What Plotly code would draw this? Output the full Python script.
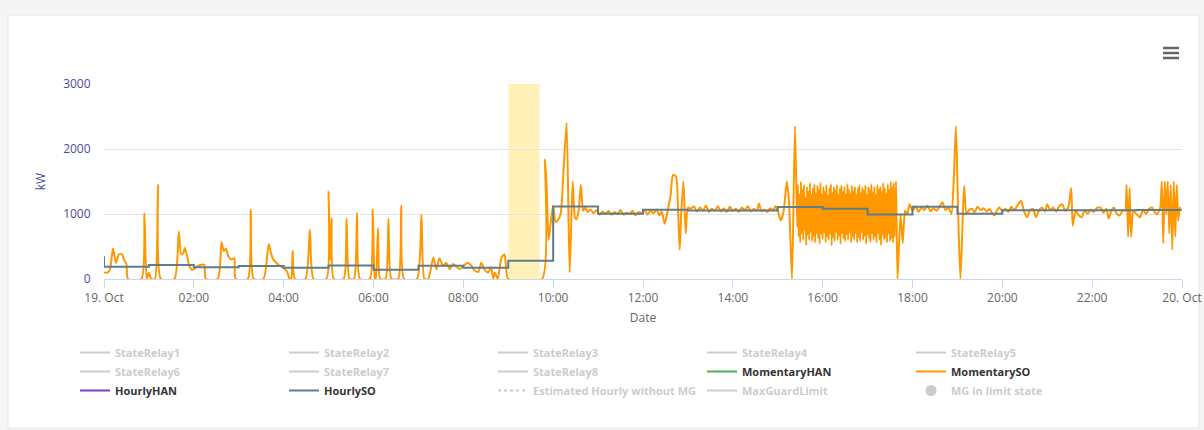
import pandas as pd
import plotly.graph_objects as go

# ---------------- data ----------------
day = "2023-10-19"

# MomentarySO (kW), (time, kW)
mom_so_night = [
    ("00:00", 100), ("00:05", 100), ("00:08", 150), ("00:12", 470), ("00:16", 250),
    ("00:20", 380), ("00:24", 380), ("00:27", 290), ("00:30", 230), ("00:32", 0),
    ("00:50", 0), ("00:54", 1010), ("00:57", 0), ("01:00", 100), ("01:03", 0),
    ("01:08", 0), ("01:12", 1450), ("01:16", 0), ("01:34", 0), ("01:40", 730),
    ("01:43", 380), ("01:46", 400), ("01:48", 480), ("01:51", 350), ("01:54", 200),
    ("01:57", 150), ("02:00", 150), ("02:05", 200), ("02:10", 220), ("02:14", 220),
    ("02:16", 0), ("02:32", 0), ("02:37", 570), ("02:40", 430), ("02:43", 470),
    ("02:46", 350), ("02:50", 300), ("02:54", 320), ("02:56", 0), ("03:12", 0),
    ("03:16", 1060), ("03:20", 0), ("03:33", 0), ("03:40", 540), ("03:43", 400),
    ("03:46", 300), ("03:50", 250), ("03:55", 200), ("03:58", 180), ("04:02", 150),
    ("04:05", 100), ("04:08", 0), ("04:10", 0), ("04:12", 430), ("04:15", 0),
    ("04:29", 0), ("04:35", 760), ("04:40", 0), ("04:57", 0), ("05:00", 1350),
    ("05:02", 300), ("05:04", 930), ("05:07", 0), ("05:20", 0), ("05:24", 930),
    ("05:28", 0), ("05:34", 0), ("05:38", 1020), ("05:42", 0), ("05:55", 0),
    ("05:59", 1070), ("06:02", 0), ("06:03", 0), ("06:06", 780), ("06:09", 0),
    ("06:16", 0), ("06:20", 930), ("06:24", 0), ("06:33", 0), ("06:37", 1130),
    ("06:41", 0), ("06:58", 0), ("07:04", 990), ("07:08", 0),
]
mom_so_morning = [
    ("07:13", 0), ("07:20", 330), ("07:24", 150), ("07:28", 320), ("07:33", 200),
    ("07:37", 250), ("07:42", 150), ("07:46", 230), ("07:50", 200), ("07:55", 150),
    ("08:00", 200), ("08:06", 250), ("08:11", 200), ("08:15", 130), ("08:20", 110),
    ("08:24", 250), ("08:28", 150), ("08:33", 100), ("08:37", 180), ("08:40", 0),
    ("08:42", 100), ("08:46", 0), ("08:51", 330), ("08:55", 380), ("08:57", 200),
    ("09:00", 0), ("09:45", 0), ("09:49", 1840), ("09:51", 1500), ("09:54", 600),
    ("09:57", 900), ("10:00", 1130), ("10:03", 880), ("10:06", 900), ("10:10", 1000),
    ("10:14", 1700), ("10:18", 2400), ("10:22", 100), ("10:26", 1500), ("10:29", 950),
    ("10:31", 920), ("10:34", 1050), ("10:37", 1450), ("10:40", 1050), ("10:43", 1100),
]
mom_so_midday = [
    ("10:46", 1030), ("10:50", 1070), ("10:54", 1010), ("10:58", 1060), ("11:02", 990),
    ("11:06", 1040), ("11:10", 1000), ("11:14", 1050), ("11:18", 990), ("11:22", 1030),
    ("11:26", 1000), ("11:30", 1060), ("11:34", 990), ("11:38", 1020), ("11:42", 1000),
    ("11:46", 1050), ("11:50", 980), ("11:54", 1030), ("11:58", 1010), ("12:02", 1060),
    ("12:06", 990), ("12:10", 1050), ("12:14", 1010), ("12:18", 1070), ("12:22", 980),
    ("12:25", 1040), ("12:29", 850), ("12:33", 1050), ("12:37", 1300), ("12:40", 1600),
    ("12:44", 1580), ("12:47", 1000), ("12:49", 450), ("12:51", 1000), ("12:54", 1500),
    ("12:57", 700), ("13:00", 1100), ("13:04", 1080), ("13:08", 1120), ("13:12", 1040),
    ("13:16", 1100), ("13:20", 1050), ("13:24", 1130), ("13:28", 1030), ("13:32", 1080),
    ("13:36", 1050), ("13:40", 1120), ("13:44", 1040), ("13:48", 1090), ("13:52", 1030),
    ("13:56", 1110), ("14:00", 1050), ("14:04", 1080), ("14:08", 1030), ("14:12", 1100),
    ("14:16", 1060), ("14:20", 1120), ("14:24", 1040), ("14:28", 1080), ("14:32", 1050),
    ("14:35", 1160), ("14:38", 1040), ("14:42", 1070), ("14:46", 1030), ("14:50", 1090),
    ("14:54", 1060), ("14:57", 1120), ("15:00", 1050), ("15:04", 900), ("15:08", 1050),
    ("15:12", 1500), ("15:15", 1200), ("15:19", 0), ("15:23", 2350), ("15:26", 800),
]
# 1-minute samples of the oscillating period starting 15:27
mom_so_osc_start = "15:27"
mom_so_osc = [
    1450, 650, 1300, 560, 1500, 700, 1380, 600, 1450, 750, 1250, 520, 1420, 680, 1350, 600, 1480, 720, 1300, 580,
    1400, 650, 1460, 560, 1320, 700, 1440, 620, 1380, 540, 1480, 690, 1300, 610, 1420, 720, 1350, 560, 1450, 650,
    1280, 600, 1400, 700, 1460, 520, 1330, 640, 1420, 580, 1370, 720, 1450, 600, 1300, 660, 1400, 540, 1440, 700,
    1350, 620, 1420, 580, 1300, 680, 1460, 600, 1380, 720, 1320, 560, 1440, 650, 1360, 600, 1420, 700, 1300, 560,
    1400, 640, 1450, 580, 1330, 720, 1410, 600, 1370, 660, 1440, 540, 1300, 680, 1420, 620, 1380, 570, 1460, 700,
    1340, 600, 1420, 650, 1300, 560, 1450, 700, 1380, 600, 1420, 520, 1350, 680, 1480, 600, 1400, 640, 1320, 560,
    1460, 700, 1380, 580, 1500, 620, 1420, 560, 1480, 650,
]
mom_so_evening = [
    ("17:38", 1500), ("17:40", 0), ("17:44", 1000), ("17:47", 550), ("17:50", 1050),
    ("17:53", 1000), ("17:56", 1150), ("18:00", 1050), ("18:04", 1120), ("18:08", 1030),
    ("18:12", 1100), ("18:16", 1060), ("18:20", 1130), ("18:24", 1040), ("18:28", 1090),
    ("18:32", 1050), ("18:36", 1110), ("18:40", 1180), ("18:44", 1060), ("18:48", 1100),
    ("18:52", 1000), ("18:55", 1500), ("18:58", 2350), ("19:01", 1000), ("19:04", 0),
    ("19:07", 900), ("19:09", 1430), ("19:12", 1000), ("19:15", 1050), ("19:19", 1080),
    ("19:23", 1030), ("19:27", 1110), ("19:31", 1060), ("19:35", 1090), ("19:39", 1040),
    ("19:43", 1080), ("19:47", 1000), ("19:50", 980), ("19:53", 1060), ("19:56", 1100),
    ("20:00", 1040), ("20:04", 1080), ("20:08", 1030), ("20:12", 1110), ("20:16", 1060),
    ("20:20", 1130), ("20:25", 1200), ("20:29", 1040), ("20:33", 950), ("20:37", 1060),
    ("20:41", 1080), ("20:45", 950), ("20:49", 1060), ("20:53", 1100), ("20:57", 1040),
    ("21:00", 1150), ("21:04", 1060), ("21:08", 1100), ("21:12", 1040), ("21:16", 1120),
    ("21:20", 1150), ("21:24", 1050), ("21:28", 1100), ("21:32", 1400), ("21:34", 820),
    ("21:38", 1060), ("21:42", 980), ("21:46", 950), ("21:50", 1060), ("21:54", 1000),
    ("21:58", 1070), ("22:02", 1030), ("22:06", 1090), ("22:11", 1100), ("22:15", 1020),
    ("22:19", 1080), ("22:22", 930), ("22:26", 1060), ("22:29", 1100), ("22:33", 1000),
    ("22:37", 980), ("22:41", 1060), ("22:44", 1050), ("22:46", 1450), ("22:48", 650),
    ("22:50", 1400), ("22:52", 650), ("22:55", 1050), ("22:59", 1000), ("23:04", 950),
    ("23:08", 1070), ("23:12", 1000), ("23:16", 1080), ("23:20", 1100), ("23:24", 1020),
    ("23:27", 1000), ("23:31", 1100), ("23:33", 1500), ("23:35", 550), ("23:37", 1500),
    ("23:39", 1000), ("23:41", 1500), ("23:43", 700), ("23:45", 1450), ("23:47", 450),
    ("23:49", 1500), ("23:51", 650), ("23:53", 1450), ("23:55", 900), ("23:57", 1100),
    ("23:59", 1050),
]

# HourlySO step values (kW)
hourly_so_time = ["00:00", "00:00", "01:00", "02:00", "03:00", "04:00", "05:00", "06:00",
                  "07:00", "08:00", "09:00", "10:00", "11:00", "12:00", "13:00", "15:00",
                  "16:00", "17:00", "18:00", "19:00", "20:00", "23:00", "23:59"]
hourly_so_kw = [350, 190, 215, 180, 200, 172, 208, 142, 205, 175, 280, 1115, 1005,
                1065, 1055, 1108, 1082, 992, 1112, 1005, 1058, 1060, 1060]

# MG-in-limit band
band_start, band_end = "09:00", "09:42"

tick_times = ["00:00", "02:00", "04:00", "06:00", "08:00", "10:00", "12:00",
              "14:00", "16:00", "18:00", "20:00", "22:00", "24:00"]
tick_labels = ["19. Oct", "02:00", "04:00", "06:00", "08:00", "10:00", "12:00",
               "14:00", "16:00", "18:00", "20:00", "22:00", "20. Oct"]
y_ticks = [0, 1000, 2000, 3000]

legend_names = ["StateRelay1", "StateRelay2", "StateRelay3", "StateRelay4", "StateRelay5",
                "StateRelay6", "StateRelay7", "StateRelay8", "MomentaryHAN", "MomentarySO",
                "HourlyHAN", "HourlySO", "Estimated Hourly without MG", "MaxGuardLimit",
                "MG in limit state"]


# ---------------- helpers ----------------
def ts(hhmm):
    h, m = hhmm.split(":")
    return pd.Timestamp(day) + pd.Timedelta(hours=int(h), minutes=int(m))


def unzip(points):
    return [ts(t) for t, _ in points], [v for _, v in points]


x1, y1 = unzip(mom_so_night + mom_so_morning + mom_so_midday)
osc_t = [ts(mom_so_osc_start) + pd.Timedelta(minutes=i) for i in range(len(mom_so_osc))]
x3, y3 = unzip(mom_so_evening)
mom_x = x1 + osc_t + x3
mom_y = y1 + mom_so_osc + y3

hour_x = [ts(t) for t in hourly_so_time]

ORANGE = "#ff9800"
HOURLY = "#607d8b"
HIDDEN = "#cccccc"
TXT = "#333333"
BLUE = "#4a4a9c"
FONT = "Open Sans"

fig = go.Figure()


def legend_trace(name, color, text_color, dash="solid", marker=False):
    label = f"<span style='color:{text_color}'>{name}</span>"
    if marker:
        fig.add_trace(go.Scatter(x=[None], y=[None], mode="markers", name=label,
                                 marker=dict(color=color, size=11), hoverinfo="skip"))
    else:
        fig.add_trace(go.Scatter(x=[None], y=[None], mode="lines", name=label,
                                 line=dict(color=color, width=2, dash=dash), hoverinfo="skip"))


for n in legend_names[:8]:
    legend_trace(n, HIDDEN, HIDDEN)
legend_trace("MomentaryHAN", "#4caf50", TXT)
fig.add_trace(go.Scatter(x=mom_x, y=mom_y, mode="lines", name=f"<span style='color:{TXT}'>MomentarySO</span>",
                         line=dict(color=ORANGE, width=2, shape="spline", smoothing=0.6)))
legend_trace("HourlyHAN", "#6f42c1", TXT)
fig.add_trace(go.Scatter(x=hour_x, y=hourly_so_kw, mode="lines", name=f"<span style='color:{TXT}'>HourlySO</span>",
                         line=dict(color=HOURLY, width=2, shape="hv")))
legend_trace("Estimated Hourly without MG", HIDDEN, HIDDEN, dash="dot")
legend_trace("MaxGuardLimit", HIDDEN, HIDDEN)
legend_trace("MG in limit state", HIDDEN, HIDDEN, marker=True)

# plot area geometry in pixels
W, H = 1204, 430
L, R, T, B = 104, 22, 84, 151
pw, ph = W - L - R, H - T - B


def px(x):
    return (x - L) / pw


def py(y):
    return (H - B - y) / ph


shapes = [
    # white card
    dict(type="rect", xref="paper", yref="paper", x0=px(8), x1=px(1199), y0=py(428), y1=py(15),
         fillcolor="white", line=dict(color="#e4e4e4", width=1), layer="below"),
    # plot band
    dict(type="rect", xref="x", yref="paper", x0=ts(band_start), x1=ts(band_end), y0=0, y1=1,
         fillcolor="#fff1b8", line=dict(width=0), layer="below"),
]
for yy in (48, 53, 58):
    shapes.append(dict(type="line", xref="paper", yref="paper", x0=px(1163), x1=px(1179),
                       y0=py(yy), y1=py(yy), line=dict(color="#666666", width=2.5)))

fig.update_layout(
    width=W, height=H,
    margin=dict(l=L, r=R, t=T, b=B, autoexpand=False),
    paper_bgcolor="#f5f5f5", plot_bgcolor="white",
    font=dict(family=FONT, size=12, color="#666666"),
    shapes=shapes,
    showlegend=True,
    legend=dict(orientation="h", x=px(75), xanchor="left", y=py(338), yanchor="top",
                entrywidth=164, entrywidthmode="pixels", itemwidth=30,
                font=dict(family=FONT, size=11, color=TXT, weight="bold"),
                bgcolor="rgba(0,0,0,0)", tracegroupgap=0, itemclick=False),
    xaxis=dict(
        type="date",
        range=[ts("00:00"), ts("24:00")],
        tickvals=[ts(t) for t in tick_times], ticktext=tick_labels,
        ticks="outside", ticklen=8, tickcolor="#ccd6eb", tickwidth=1,
        showline=True, linecolor="#ccd6eb", linewidth=1,
        showgrid=False, zeroline=False,
        tickfont=dict(family=FONT, size=12, color="#666666"),
        title=dict(text="Date", font=dict(family=FONT, size=12, color="#666666"), standoff=8),
    ),
    yaxis=dict(
        type="linear",
        range=[0, 3000], tickvals=y_ticks,
        ticks="outside", ticklen=10, tickcolor="rgba(0,0,0,0)",
        showline=False, showgrid=True, gridcolor="#e6e6e6", gridwidth=1, zeroline=False,
        tickfont=dict(family=FONT, size=12, color=BLUE),
        title=dict(text="kW", font=dict(family=FONT, size=12, color=BLUE), standoff=14),
    ),
)

fig.write_html("out.html", config={"displayModeBar": False},
               post_script="document.body.style.margin='0';document.body.style.background='#f5f5f5';")
